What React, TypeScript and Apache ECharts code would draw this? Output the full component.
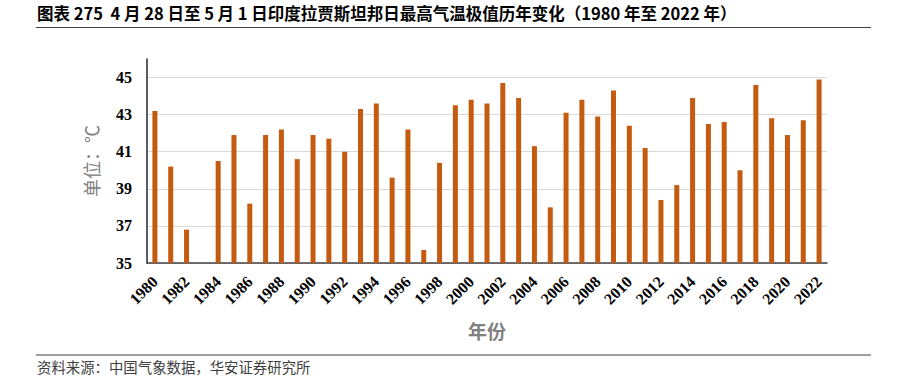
import React, { useEffect, useRef } from 'react';
import * as echarts from 'echarts';

const years = [
  '1980', '1981', '1982', '1983', '1984', '1985', '1986', '1987', '1988', '1989',
  '1990', '1991', '1992', '1993', '1994', '1995', '1996', '1997', '1998', '1999',
  '2000', '2001', '2002', '2003', '2004', '2005', '2006', '2007', '2008', '2009',
  '2010', '2011', '2012', '2013', '2014', '2015', '2016', '2017', '2018', '2019',
  '2020', '2021', '2022',
];

const maxTemps: (number | null)[] = [
  43.2, 40.2, 36.8, null, 40.5, 41.9, 38.2, 41.9, 42.2, 40.6,
  41.9, 41.7, 41.0, 43.3, 43.6, 39.6, 42.2, 35.7, 40.4, 43.5,
  43.8, 43.6, 44.7, 43.9, 41.3, 38.0, 43.1, 43.8, 42.9, 44.3,
  42.4, 41.2, 38.4, 39.2, 43.9, 42.5, 42.6, 40.0, 44.6, 42.8,
  41.9, 42.7, 44.9,
];

const titleText = '图表 275  4 月 28 日至 5 月 1 日印度拉贾斯坦邦日最高气温极值历年变化（1980 年至 2022 年）';
const sourceText = '资料来源：中国气象数据，华安证券研究所';
const xName = '年份';
const yName = '单位：℃';

export default function App() {
  const ref = useRef<HTMLDivElement>(null);

  useEffect(() => {
    if (!ref.current) return;
    const chart = echarts.init(ref.current, null, { renderer: 'svg' });
    const serif = "'Liberation Serif', 'Times New Roman', serif";
    chart.setOption({
      animation: false,
      backgroundColor: '#ffffff',
      grid: { left: 147, right: 70, top: 59, bottom: 122, containLabel: false },
      graphic: [
        {
          type: 'text',
          left: 37,
          top: 5,
          style: {
            text: titleText,
            fontSize: 16.5,
            fontWeight: 'bold',
            fontFamily: "'Noto Sans CJK SC', sans-serif",
            fill: '#000000',
          },
        },
        {
          type: 'line',
          shape: { x1: 36, y1: 27.5, x2: 871, y2: 27.5 },
          style: { stroke: '#404040', lineWidth: 1.2 },
        },
        {
          type: 'line',
          shape: { x1: 36, y1: 355, x2: 871, y2: 355 },
          style: { stroke: '#404040', lineWidth: 1.2 },
        },
        {
          type: 'text',
          left: 37,
          top: 359,
          style: {
            text: sourceText,
            fontSize: 14.4,
            fontFamily: "'Noto Sans CJK SC', sans-serif",
            fill: '#404040',
          },
        },
      ],
      xAxis: {
        type: 'category',
        data: years,
        boundaryGap: true,
        name: xName,
        nameLocation: 'middle',
        nameGap: 58,
        nameTextStyle: {
          fontSize: 19,
          color: '#808080',
          fontFamily: "'Noto Sans CJK SC', sans-serif",
          fontWeight: 'bold',
        },
        axisLine: { show: true, lineStyle: { color: '#404040', width: 1.5 } },
        axisTick: { show: false },
        axisLabel: {
          interval: 1,
          rotate: 45,
          margin: 16,
          fontSize: 16,
          fontWeight: 'bold',
          fontFamily: serif,
          color: '#000000',
        },
        splitLine: { show: false },
      },
      yAxis: {
        type: 'value',
        min: 35,
        max: 46,
        interval: 1,
        name: yName,
        nameLocation: 'middle',
        nameGap: 45,
        nameTextStyle: {
          fontSize: 18,
          color: '#808080',
          fontFamily: "'Liberation Serif', 'Noto Sans CJK SC', serif",
          fontWeight: 'normal',
        },
        axisLine: { show: true, lineStyle: { color: '#262626', width: 1.5 } },
        axisTick: { show: false },
        axisLabel: {
          margin: 15,
          fontSize: 16,
          fontWeight: 'bold',
          fontFamily: serif,
          color: '#000000',
          formatter: (v: number) => (Math.round(v) % 2 === 1 && v < 46 ? String(v) : ''),
        },
        splitLine: {
          show: true,
          showMinLine: true,
          showMaxLine: true,
          lineStyle: { color: ['#d9d9d9', 'rgba(0,0,0,0)'], width: 1.2 },
        },
      },
      series: [
        {
          type: 'bar',
          data: maxTemps,
          barWidth: 5,
          itemStyle: { color: '#c55a11' },
        },
      ],
    });
    return () => chart.dispose();
  }, []);

  return (
    <div
      ref={ref}
      style={{ position: 'fixed', left: 0, top: 0, width: 897, height: 385 }}
    />
  );
}
